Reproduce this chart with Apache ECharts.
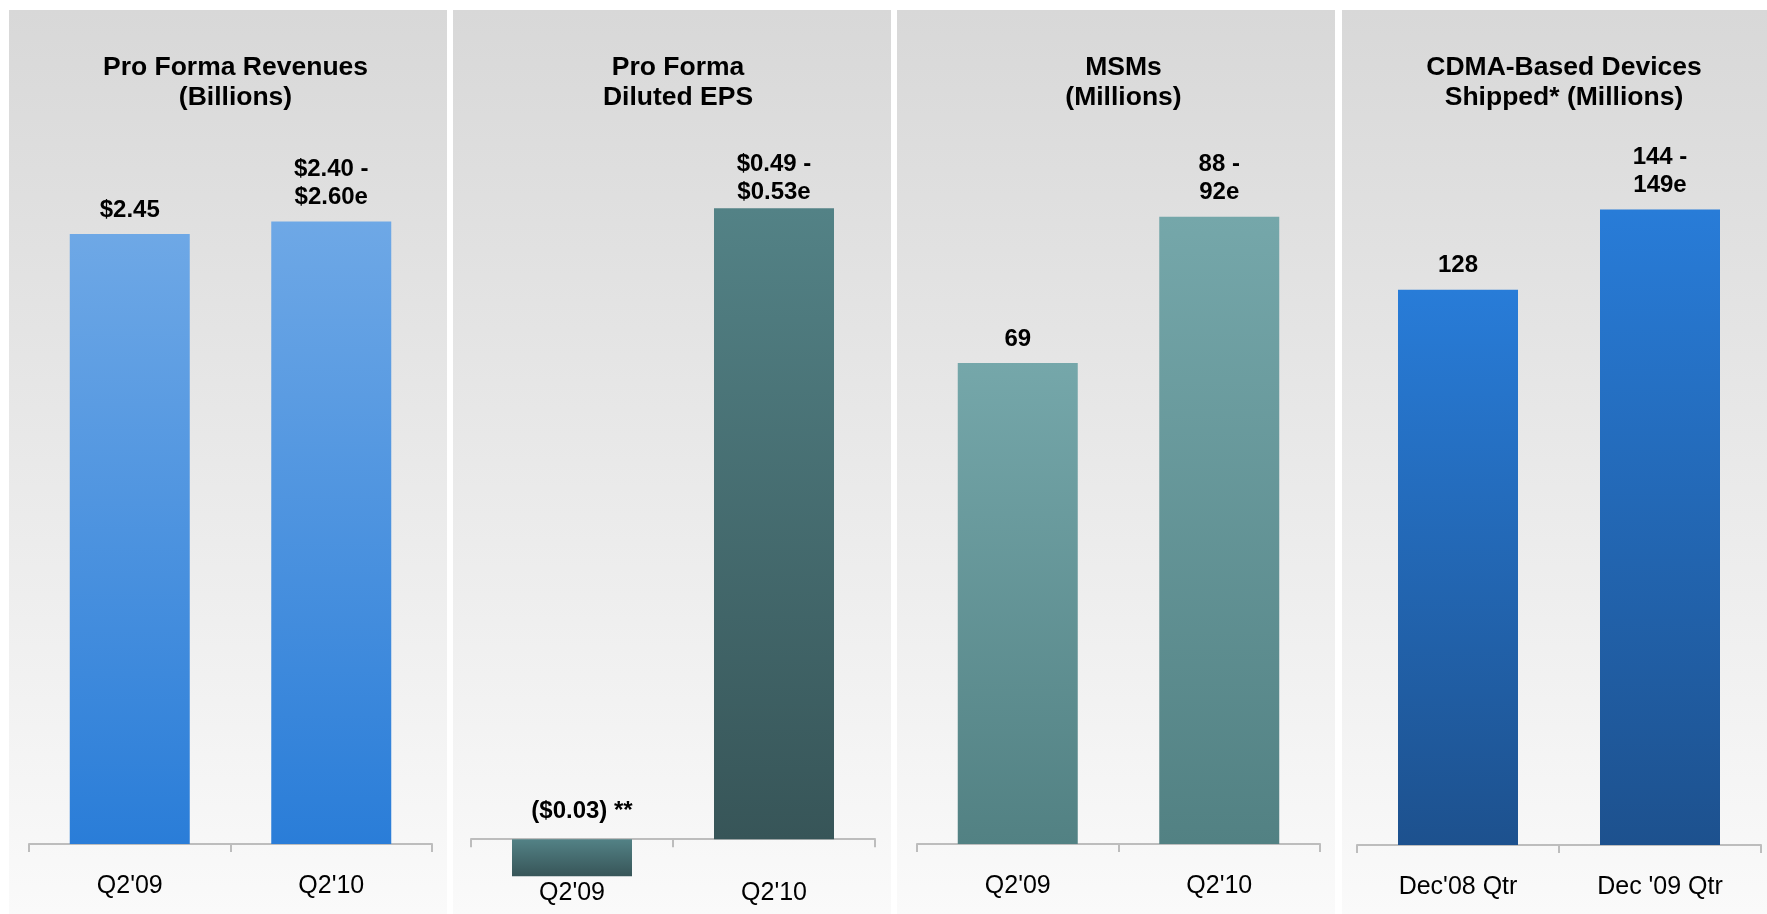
<!DOCTYPE html>
<html>
<head>
<meta charset="utf-8">
<title>Quarterly Outlook</title>
<script src="https://cdn.jsdelivr.net/npm/echarts@6/dist/echarts.min.js"></script>
<style>
  html, body { margin: 0; padding: 0; background: #ffffff; }
  #chart { width: 1767px; height: 914px; }
</style>
</head>
<body>
<div id="chart"></div>
<script>
// ---- data ----
const panelTitles = [
  'Pro Forma Revenues\n(Billions)',
  'Pro Forma\nDiluted EPS',
  'MSMs\n(Millions)',
  'CDMA-Based Devices\nShipped* (Millions)'
];

const revCategories = ["Q2'09", "Q2'10"];
const revValues = [2.45, 2.50];            // Q2'10 guidance range 2.40 - 2.60, drawn at midpoint
const revLabels = ['$2.45', '$2.40 -\n$2.60e'];

const epsCategories = ["Q2'09", "Q2'10"];
const epsValues = [-0.03, 0.51];           // Q2'10 guidance range 0.49 - 0.53
const epsLabels = ['($0.03) **', '$0.49 -\n$0.53e'];

const msmCategories = ["Q2'09", "Q2'10"];
const msmValues = [69, 90];                // Q2'10 guidance range 88 - 92
const msmLabels = ['69', '88 -\n92e'];

const cdmaCategories = ["Dec'08 Qtr", "Dec '09 Qtr"];
const cdmaValues = [128, 146.5];           // Dec '09 guidance range 144 - 149
const cdmaLabels = ['128', '144 -\n149e'];

// ---- styling helpers ----
const FONT = '"Liberation Sans", Arial, Helvetica, sans-serif';

function vGrad(top, bottom) {
  return {
    type: 'linear', x: 0, y: 0, x2: 0, y2: 1,
    colorStops: [{ offset: 0, color: top }, { offset: 1, color: bottom }]
  };
}

const panelBoxes = [
  { x: 9,    w: 438 },
  { x: 453,  w: 438 },
  { x: 897,  w: 438 },
  { x: 1342, w: 425 }
];

const grids = [
  { left: 29,   width: 403, top: 97,  height: 747 },
  { left: 471,  width: 404, top: 97,  height: 804 },
  { left: 917,  width: 403, top: 147, height: 697 },
  { left: 1357, width: 404, top: 151, height: 694 }
];

const yRanges = [
  { min: 0, max: 3 },
  { min: -0.05, max: 0.6 },
  { min: 0, max: 100 },
  { min: 0, max: 160 }
];

const categorySets = [revCategories, epsCategories, msmCategories, cdmaCategories];
// category labels sit at the grid's bottom edge; the EPS grid reaches lower,
// so its labels are pulled back up to line up with the other panels
const labelMargins = [30, -20, 30, 30];

const barColors = [
  vGrad('#6ea8e6', '#2a7dd8'),
  vGrad('#538286', '#375558'),
  vGrad('#75a7aa', '#528183'),
  vGrad('#287cd8', '#1d518e')
];

const labelStyle = {
  show: true,
  position: 'top',
  color: '#000000',
  fontFamily: FONT,
  fontSize: 24,
  fontWeight: 'bold',
  lineHeight: 28,
  align: 'center'
};

function makeSeries(idx, values, labels, distance, itemLabelOverrides) {
  return {
    type: 'bar',
    xAxisIndex: idx,
    yAxisIndex: idx,
    barWidth: 120,
    itemStyle: { color: barColors[idx] },
    label: Object.assign({}, labelStyle, {
      distance: distance,
      formatter: p => labels[p.dataIndex]
    }),
    data: values.map((v, i) => {
      const item = { value: v };
      if (itemLabelOverrides && itemLabelOverrides[i]) item.label = itemLabelOverrides[i];
      return item;
    }),
    silent: true,
    animation: false
  };
}

const chart = echarts.init(document.getElementById('chart'), null, { renderer: 'canvas' });

const option = {
  backgroundColor: '#ffffff',
  animation: false,
  graphic: panelBoxes.map(b => ({
    type: 'rect',
    z: -10,
    silent: true,
    shape: { x: b.x, y: 10, width: b.w, height: 904 },
    style: { fill: vGrad('#d8d8d8', '#fafafa') }
  })),
  title: panelTitles.map((t, i) => ({
    text: t,
    left: grids[i].left + grids[i].width / 2,
    top: 48,
    textAlign: 'center',
    textStyle: {
      fontFamily: FONT,
      fontSize: 26.5,
      fontWeight: 'bold',
      color: '#000000',
      lineHeight: 30
    }
  })),
  grid: grids.map(g => Object.assign({ containLabel: false, outerBoundsMode: 'none' }, g)),
  xAxis: categorySets.map((cats, i) => ({
    type: 'category',
    gridIndex: i,
    data: cats,
    boundaryGap: true,
    axisLine: { show: true, onZero: true, lineStyle: { color: '#bdbdbd', width: 2 } },
    axisTick: { show: true, length: 8, alignWithLabel: false, lineStyle: { color: '#bdbdbd', width: 2 } },
    axisLabel: {
      color: '#000000',
      fontFamily: FONT,
      fontSize: 25,
      margin: labelMargins[i]
    },
    splitLine: { show: false }
  })),
  yAxis: yRanges.map((r, i) => ({
    type: 'value',
    gridIndex: i,
    min: r.min,
    max: r.max,
    show: false,
    splitLine: { show: false }
  })),
  series: [
    makeSeries(0, revValues, revLabels, 10),
    makeSeries(1, epsValues, epsLabels, 2, [{ position: 'top', distance: 14, offset: [10, 0] }, null]),
    makeSeries(2, msmValues, msmLabels, 10),
    makeSeries(3, cdmaValues, cdmaLabels, 10)
  ]
};

chart.setOption(option);
</script>
</body>
</html>
